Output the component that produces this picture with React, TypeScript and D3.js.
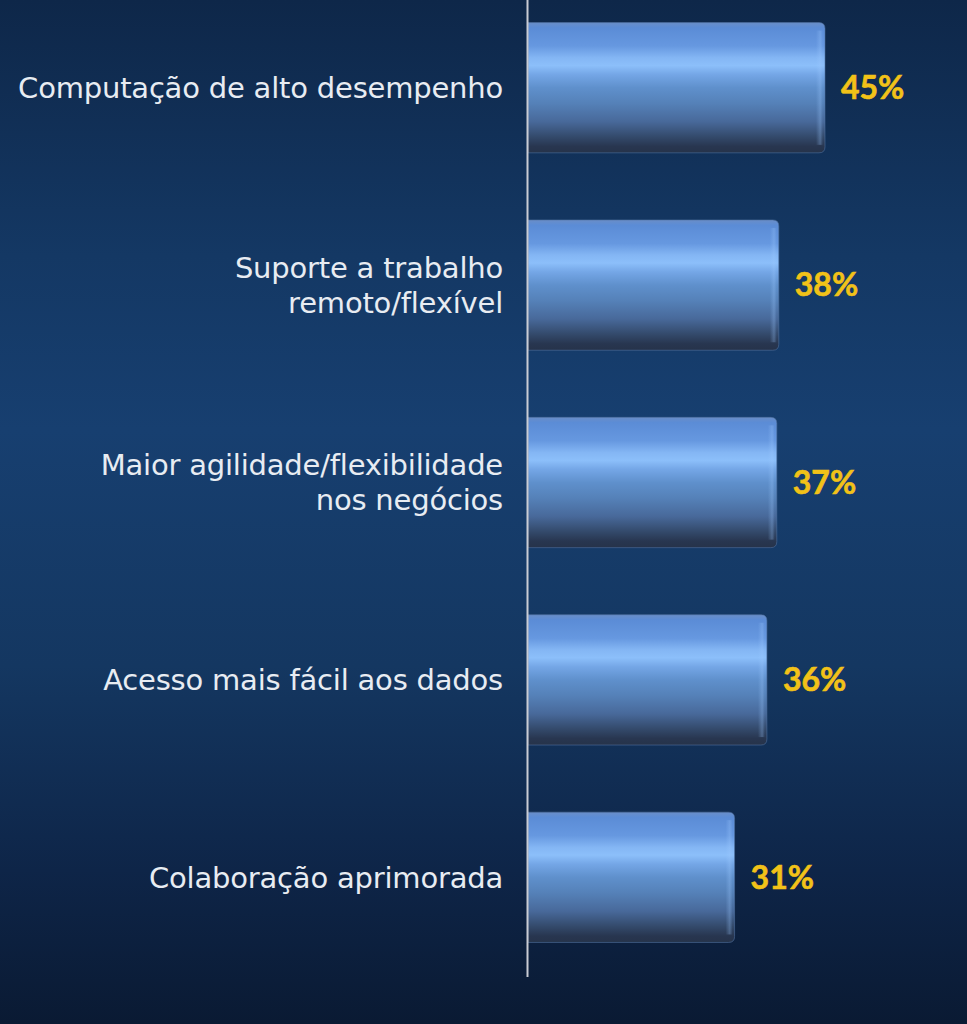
import React from "react";
import * as d3 from "d3";

const categories: string[][] = [
  ["Computação de alto desempenho"],
  ["Suporte a trabalho", "remoto/flexível"],
  ["Maior agilidade/flexibilidade", "nos negócios"],
  ["Acesso mais fácil aos dados"],
  ["Colaboração aprimorada"],
];
const values: number[] = [45, 38, 37.7, 36.2, 31.3];
const valueLabels: string[] = ["45%", "38%", "37%", "36%", "31%"];

const W = 967;
const H = 1024;

export default function App() {
  const x = d3.scaleLinear().domain([0, 45]).range([528, 825]);
  const y = d3
    .scaleBand<number>()
    .domain(d3.range(values.length))
    .range([-11, 976])
    .paddingInner(0.34)
    .paddingOuter(0.17);

  const r = 6;
  const barPath = (x0: number, x1: number, y0: number, h: number) =>
    `M${x0},${y0} H${x1 - r} Q${x1},${y0} ${x1},${y0 + r} V${y0 + h - r} Q${x1},${y0 + h} ${x1 - r},${y0 + h} H${x0} Z`;

  return (
    <svg
      width={W}
      height={H}
      style={{ position: "absolute", left: 0, top: 0, display: "block" }}
    >
      <defs>
        <linearGradient id="bg" x1="0" y1="0" x2="0" y2="1">
          <stop offset="0" stopColor="#0e2749" />
          <stop offset="0.25" stopColor="#143864" />
          <stop offset="0.42" stopColor="#173f70" />
          <stop offset="0.65" stopColor="#143761" />
          <stop offset="0.85" stopColor="#0e2548" />
          <stop offset="1" stopColor="#0a1a33" />
        </linearGradient>
        <linearGradient id="bar" x1="0" y1="0" x2="0" y2="1">
          <stop offset="0" stopColor="#6a8ec8" />
          <stop offset="0.04" stopColor="#5b8cd6" />
          <stop offset="0.18" stopColor="#6698e0" />
          <stop offset="0.27" stopColor="#84b6f4" />
          <stop offset="0.33" stopColor="#8cbffa" />
          <stop offset="0.4" stopColor="#74a6e6" />
          <stop offset="0.5" stopColor="#5f90cc" />
          <stop offset="0.62" stopColor="#5581b8" />
          <stop offset="0.76" stopColor="#48699a" />
          <stop offset="0.88" stopColor="#33496a" />
          <stop offset="0.95" stopColor="#283650" />
          <stop offset="1" stopColor="#26334a" />
        </linearGradient>
        <linearGradient id="edge" x1="0" y1="0" x2="1" y2="0">
          <stop offset="0" stopColor="#9cc8ff" stopOpacity="0" />
          <stop offset="0.6" stopColor="#9cc8ff" stopOpacity="0.3" />
          <stop offset="1" stopColor="#9cc8ff" stopOpacity="0" />
        </linearGradient>
      </defs>
      <rect x={0} y={0} width={W} height={H} fill="url(#bg)" />
      {values.map((v, i) => {
        const y0 = y(i)!;
        const h = y.bandwidth();
        const x0 = x(0);
        const x1 = x(v);
        const cy = y0 + h / 2;
        const lines = categories[i];
        const lh = 35;
        return (
          <g key={i}>
            <path d={barPath(x0, x1, y0, h)} fill="url(#bar)" stroke="#4f6f9e" strokeWidth={1} strokeOpacity={0.6} />
            <rect x={x1 - 9} y={y0 + 8} width={7} height={h - 16} fill="url(#edge)" />
            <text
              x={x1 + 16}
              y={cy}
              dy="0.35em"
              fill="#f2c218"
              fontFamily="Lato, 'Open Sans', sans-serif"
              fontWeight={700}
              fontSize={32}
              stroke="#f2c218"
              strokeWidth={0.6}
            >
              {valueLabels[i]}
            </text>
            {lines.map((ln, j) => (
              <text
                key={j}
                x={503}
                y={cy + (j - (lines.length - 1) / 2) * lh}
                dy="0.36em"
                textAnchor="end"
                fill="#e8ecf2"
                fontFamily="'DejaVu Sans', Verdana, sans-serif"
                fontSize={29}
                letterSpacing={-0.2}
              >
                {ln}
              </text>
            ))}
          </g>
        );
      })}
      <line x1={527.5} x2={527.5} y1={0} y2={977} stroke="#c9ccd4" strokeWidth={2} />
    </svg>
  );
}
